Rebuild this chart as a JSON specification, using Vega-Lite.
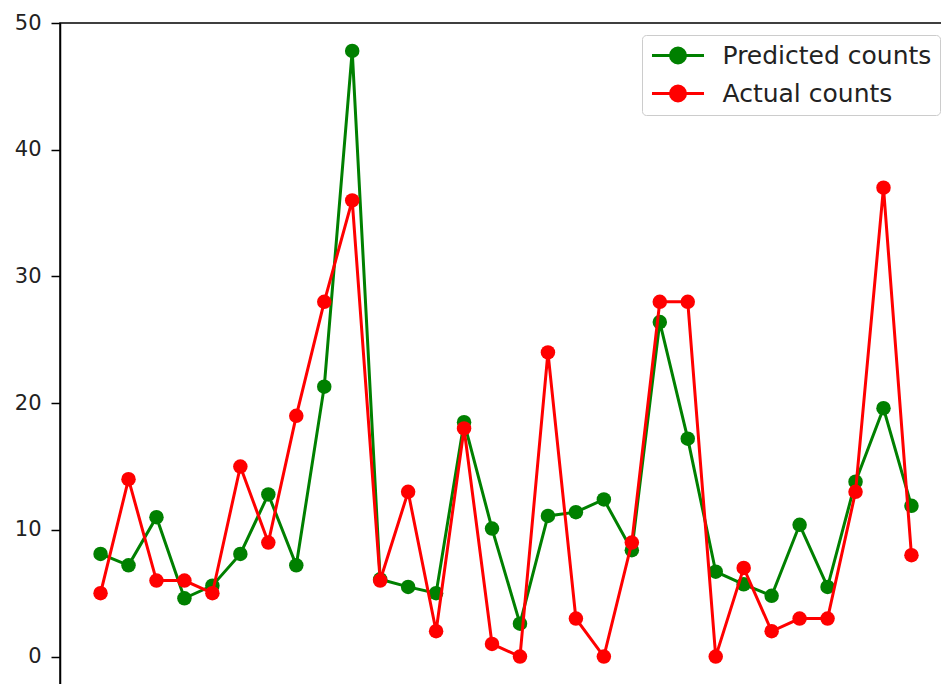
{
  "$schema": "https://vega.github.io/schema/vega-lite/v6.json",
  "width": 892,
  "height": 664,
  "autosize": {"type": "none"},
  "padding": {"left": 60, "top": 23, "right": 0, "bottom": 0},
  "background": "white",
  "config": {"view": {"stroke": "black", "strokeWidth": 1.5}, "font": "DejaVu Sans"},
  "data": {"values": [
    {"i": 0, "series": "Predicted counts", "value": 8.1},
    {"i": 1, "series": "Predicted counts", "value": 7.2},
    {"i": 2, "series": "Predicted counts", "value": 11.0},
    {"i": 3, "series": "Predicted counts", "value": 4.6},
    {"i": 4, "series": "Predicted counts", "value": 5.6},
    {"i": 5, "series": "Predicted counts", "value": 8.1},
    {"i": 6, "series": "Predicted counts", "value": 12.8},
    {"i": 7, "series": "Predicted counts", "value": 7.2},
    {"i": 8, "series": "Predicted counts", "value": 21.3},
    {"i": 9, "series": "Predicted counts", "value": 47.8},
    {"i": 10, "series": "Predicted counts", "value": 6.1},
    {"i": 11, "series": "Predicted counts", "value": 5.5},
    {"i": 12, "series": "Predicted counts", "value": 5.0},
    {"i": 13, "series": "Predicted counts", "value": 18.5},
    {"i": 14, "series": "Predicted counts", "value": 10.1},
    {"i": 15, "series": "Predicted counts", "value": 2.6},
    {"i": 16, "series": "Predicted counts", "value": 11.1},
    {"i": 17, "series": "Predicted counts", "value": 11.4},
    {"i": 18, "series": "Predicted counts", "value": 12.4},
    {"i": 19, "series": "Predicted counts", "value": 8.4},
    {"i": 20, "series": "Predicted counts", "value": 26.4},
    {"i": 21, "series": "Predicted counts", "value": 17.2},
    {"i": 22, "series": "Predicted counts", "value": 6.7},
    {"i": 23, "series": "Predicted counts", "value": 5.7},
    {"i": 24, "series": "Predicted counts", "value": 4.8},
    {"i": 25, "series": "Predicted counts", "value": 10.4},
    {"i": 26, "series": "Predicted counts", "value": 5.5},
    {"i": 27, "series": "Predicted counts", "value": 13.8},
    {"i": 28, "series": "Predicted counts", "value": 19.6},
    {"i": 29, "series": "Predicted counts", "value": 11.9},
    {"i": 0, "series": "Actual counts", "value": 5},
    {"i": 1, "series": "Actual counts", "value": 14},
    {"i": 2, "series": "Actual counts", "value": 6},
    {"i": 3, "series": "Actual counts", "value": 6},
    {"i": 4, "series": "Actual counts", "value": 5},
    {"i": 5, "series": "Actual counts", "value": 15},
    {"i": 6, "series": "Actual counts", "value": 9},
    {"i": 7, "series": "Actual counts", "value": 19},
    {"i": 8, "series": "Actual counts", "value": 28},
    {"i": 9, "series": "Actual counts", "value": 36},
    {"i": 10, "series": "Actual counts", "value": 6},
    {"i": 11, "series": "Actual counts", "value": 13},
    {"i": 12, "series": "Actual counts", "value": 2},
    {"i": 13, "series": "Actual counts", "value": 18},
    {"i": 14, "series": "Actual counts", "value": 1},
    {"i": 15, "series": "Actual counts", "value": 0},
    {"i": 16, "series": "Actual counts", "value": 24},
    {"i": 17, "series": "Actual counts", "value": 3},
    {"i": 18, "series": "Actual counts", "value": 0},
    {"i": 19, "series": "Actual counts", "value": 9},
    {"i": 20, "series": "Actual counts", "value": 28},
    {"i": 21, "series": "Actual counts", "value": 28},
    {"i": 22, "series": "Actual counts", "value": 0},
    {"i": 23, "series": "Actual counts", "value": 7},
    {"i": 24, "series": "Actual counts", "value": 2},
    {"i": 25, "series": "Actual counts", "value": 3},
    {"i": 26, "series": "Actual counts", "value": 3},
    {"i": 27, "series": "Actual counts", "value": 13},
    {"i": 28, "series": "Actual counts", "value": 37},
    {"i": 29, "series": "Actual counts", "value": 8}
  ]},
  "encoding": {
    "x": {"field": "i", "type": "quantitative", "scale": {"domain": [-1.45, 30.45], "nice": false, "zero": false}, "axis": null},
    "y": {"field": "value", "type": "quantitative", "scale": {"domain": [-2.4, 50], "nice": false, "zero": false},
      "axis": {"values": [0, 10, 20, 30, 40, 50], "title": null, "grid": false, "domain": true, "domainColor": "black", "domainWidth": 1.5,
        "tickColor": "black", "tickWidth": 1.5, "tickSize": 9, "labelFontSize": 21, "labelFont": "DejaVu Sans", "labelColor": "#222222",
        "labelPadding": 10, "labelFlush": false}},
    "color": {"field": "series", "type": "nominal",
      "scale": {"domain": ["Predicted counts", "Actual counts"], "range": ["#008000", "#ff0000"]},
      "legend": {"title": null, "orient": "none", "legendX": 582, "legendY": 12,
        "symbolType": "M-3.47,0H3.47M1,0A1,1,0,1,1,-1,0A1,1,0,1,1,1,0Z",
        "symbolSize": 225, "symbolStrokeWidth": 3, "symbolOffset": 15.5,
        "labelFontSize": 25, "labelFont": "DejaVu Sans", "labelColor": "#222222", "labelOffset": 32, "labelLimit": 400,
        "padding": 8, "rowPadding": 11,
        "fillColor": "rgba(255,255,255,0.85)", "strokeColor": "#cccccc", "cornerRadius": 4,
        "encode": {"symbols": {"update": {"fill": {"scale": "color", "field": "value"}, "stroke": {"scale": "color", "field": "value"}, "opacity": {"value": 1}}}}}}
  },
  "layer": [
    {"transform": [{"filter": "datum.series == 'Predicted counts'"}], "mark": {"type": "line", "strokeWidth": 3}},
    {"transform": [{"filter": "datum.series == 'Predicted counts'"}], "mark": {"type": "point", "filled": true, "size": 210, "opacity": 1}},
    {"transform": [{"filter": "datum.series == 'Actual counts'"}], "mark": {"type": "line", "strokeWidth": 3}},
    {"transform": [{"filter": "datum.series == 'Actual counts'"}], "mark": {"type": "point", "filled": true, "size": 210, "opacity": 1}}
  ]
}
